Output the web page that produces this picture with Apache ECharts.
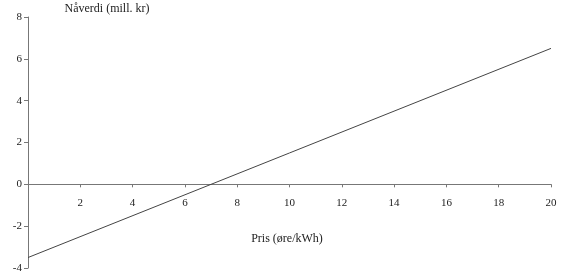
<!DOCTYPE html>
<html>
<head>
<meta charset="utf-8">
<script src="https://cdn.jsdelivr.net/npm/echarts@6/dist/echarts.min.js"></script>
<style>html,body{margin:0;padding:0;background:#fff}#c{width:567px;height:280px}</style>
</head>
<body>
<div id="c"></div>
<script>
const xValues = [0, 20];
const yValues = [-3.5, 6.5];
const yAxisTitle = 'Nåverdi (mill. kr)';
const xAxisTitle = 'Pris (øre/kWh)';

const chart = echarts.init(document.getElementById('c'), null, {renderer: 'canvas'});
const font = 'Liberation Serif';
const gTop = 17, gBottom = 12, H = 280;
const plotH = H - gTop - gBottom;
const yMin = -4, yMax = 8;
const zeroOffset = -plotH * (0 - yMin) / (yMax - yMin);
chart.setOption({
  animation: false,
  grid: {left: 28, right: 16, top: gTop, bottom: gBottom, containLabel: false, outerBoundsMode: 'none'},
  xAxis: {
    type: 'value', min: 0, max: 20, interval: 2,
    position: 'bottom', offset: zeroOffset,
    axisLine: {onZero: false, lineStyle: {color: '#777', width: 1}},
    axisTick: {show: true, length: 3, lineStyle: {color: '#777'}},
    axisLabel: {showMinLabel: false, color: '#222', fontFamily: font, fontSize: 11, margin: 13},
    splitLine: {show: false}
  },
  yAxis: {
    type: 'value', min: yMin, max: yMax, interval: 2,
    axisLine: {show: true, onZero: false, lineStyle: {color: '#777', width: 1}},
    axisTick: {show: true, length: 4, lineStyle: {color: '#777'}},
    axisLabel: {color: '#222', fontFamily: font, fontSize: 11, margin: 6},
    splitLine: {show: false}
  },
  graphic: [
    {type: 'text', x: 107, y: 9, style: {text: yAxisTitle, font: '12px "Liberation Serif"', fill: '#222', textAlign: 'center', textVerticalAlign: 'middle'}},
    {type: 'text', x: 287, y: 239, style: {text: xAxisTitle, font: '12px "Liberation Serif"', fill: '#222', textAlign: 'center', textVerticalAlign: 'middle'}}
  ],
  series: [{
    type: 'line',
    data: xValues.map((x, i) => [x, yValues[i]]),
    symbol: 'none',
    lineStyle: {color: '#444', width: 1}
  }]
});
</script>
</body>
</html>
